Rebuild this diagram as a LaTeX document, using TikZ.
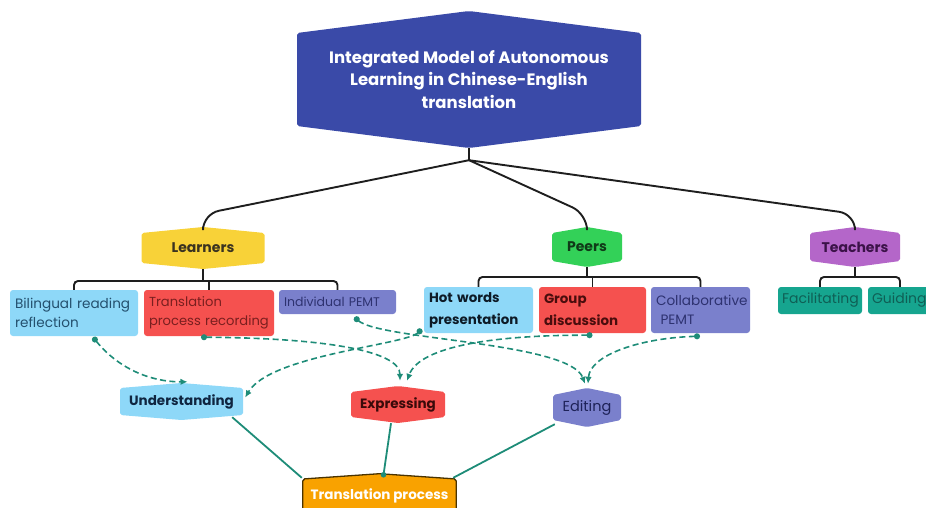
\documentclass[tikz,border=0pt]{standalone}
\usepackage{fontspec}
\setmainfont{Poppins}
\usetikzlibrary{arrows.meta}
\definecolor{titleblue}{HTML}{3A4AA8}
\definecolor{lyellow}{HTML}{F8D238}
\definecolor{pgreen}{HTML}{33D158}
\definecolor{tpurple}{HTML}{B466C9}
\definecolor{lblue}{HTML}{8ED8F8}
\definecolor{cred}{HTML}{F5514F}
\definecolor{cpurple}{HTML}{7A80CC}
\definecolor{cteal}{HTML}{16A58F}
\definecolor{lteal}{HTML}{1E8C78}
\definecolor{corange}{HTML}{F9A200}
\definecolor{obrown}{HTML}{4A3300}
\definecolor{treeblack}{HTML}{1E1E1E}
\definecolor{tlearn}{HTML}{3A3320}
\definecolor{tpeer}{HTML}{103A18}
\definecolor{tteach}{HTML}{3B1248}
\definecolor{tbil}{HTML}{24506E}
\definecolor{tred}{HTML}{7A1F1F}
\definecolor{tpur}{HTML}{2E3270}
\definecolor{thot}{HTML}{0D1A26}
\definecolor{tgrp}{HTML}{4A0D0D}
\definecolor{tteal}{HTML}{0F5F55}
\definecolor{tund}{HTML}{0F2540}
\definecolor{texp}{HTML}{3A0A0A}
\definecolor{tedi}{HTML}{1E2258}
\tikzset{
  hexa/.style 2 args={draw=none, inner sep=0pt, align=center,
    path picture={\fill[#1, rounded corners=2pt]
      ([yshift=-#2]path picture bounding box.north west) --
      (path picture bounding box.north) --
      ([yshift=-#2]path picture bounding box.north east) --
      ([yshift=#2]path picture bounding box.south east) --
      (path picture bounding box.south) --
      ([yshift=#2]path picture bounding box.south west) -- cycle;}},
  hexo/.style 2 args={draw=none, inner sep=0pt, align=center,
    path picture={\filldraw[fill=#1, draw=obrown, line width=1.3pt, rounded corners=2pt]
      ([xshift=0.7pt,yshift=-#2]path picture bounding box.north west) --
      ([yshift=-0.7pt]path picture bounding box.north) --
      ([xshift=-0.7pt,yshift=-#2]path picture bounding box.north east) --
      ([xshift=-0.7pt,yshift=#2]path picture bounding box.south east) --
      ([yshift=0.7pt]path picture bounding box.south) --
      ([xshift=0.7pt,yshift=#2]path picture bounding box.south west) -- cycle;}},
  boxy/.style={rounded corners=3pt, inner sep=5pt, align=left, anchor=center,
    font=\fontsize{13.6}{19.5}\selectfont},
  bfbox/.style={boxy, font=\bfseries\fontsize{13.4}{22}\selectfont},
  lvone/.style={font=\bfseries\fontsize{14}{17}\selectfont},
  lvtwo/.style={font=\bfseries\fontsize{13.5}{17}\selectfont},
  tree/.style={draw=treeblack, line width=1.9pt},
  dashc/.style={draw=lteal, line width=1.6pt, dash pattern=on 6pt off 3.5pt,
    {Circle[length=6pt]}-{Latex[length=7pt,width=6.5pt]}},
  solc/.style={draw=lteal, line width=1.8pt}
}
\begin{document}
\begin{tikzpicture}[x=1pt,y=-1pt]
\useasboundingbox (0,0) rectangle (926,508);

% title
\node[hexa={titleblue}{22pt}, minimum width=344pt, minimum height=137pt, text=white,
  font=\bfseries\fontsize{16.5}{22.5}\selectfont] (title) at (469,79.5)
  {Integrated Model of Autonomous\\Learning in Chinese-English\\translation};

% level one
\node[hexa={lyellow}{6pt}, minimum width=123pt, minimum height=42pt, lvone, text=tlearn] (ler) at (203,248) {Learners};
\node[hexa={pgreen}{6pt}, minimum width=70pt, minimum height=40pt, lvone, text=tpeer] (peer) at (587,247) {Peers};
\node[hexa={tpurple}{6pt}, minimum width=90pt, minimum height=40pt, lvone, text=tteach] (tea) at (855,247) {Teachers};

% children
\node[boxy, fill=lblue, minimum width=128pt, minimum height=46pt, text width=118pt, text=tbil] (bil) at (74,313) {Bilingual reading\\reflection};
\node[boxy, fill=cred, minimum width=130pt, minimum height=46pt, text width=120pt, text=tred, font=\fontsize{13.1}{19.5}\selectfont] (tpr) at (209,313) {Translation\\\mbox{process recording}};
\node[boxy, fill=cpurple, minimum width=117pt, minimum height=24pt, text width=107pt, inner sep=4pt, text=tpur, font=\fontsize{12.5}{15}\selectfont] (ipe) at (337.5,302) {Individual PEMT};
\node[bfbox, fill=lblue, minimum width=109pt, minimum height=46pt, text width=99pt, text=thot] (hot) at (478.5,310) {Hot words\\presentation};
\node[bfbox, fill=cred, minimum width=107pt, minimum height=46pt, text width=97pt, text=tgrp] (grp) at (592.5,310) {Group\\discussion};
\node[boxy, fill=cpurple, minimum width=99pt, minimum height=46pt, text width=89pt, text=tpur] (col) at (700.5,310) {Collaborative\\\ PEMT};
\node[boxy, fill=cteal, minimum width=84pt, minimum height=27pt, text width=76pt, inner sep=4pt, text=tteal, font=\fontsize{14}{17}\selectfont] (fac) at (820,300.5) {Facilitating};
\node[boxy, fill=cteal, minimum width=64pt, minimum height=27pt, text width=56pt, inner sep=4pt, text=tteal, font=\fontsize{14}{17}\selectfont] (gui) at (900,300.5) {Guiding};

% level three
\node[hexa={lblue}{5pt}, minimum width=123pt, minimum height=37pt, lvtwo, text=tund] (und) at (181.5,401.5) {Understanding};
\node[hexa={cred}{6pt}, minimum width=94pt, minimum height=37pt, lvtwo, text=texp] (exp) at (398,404.5) {Expressing};
\node[hexa={cpurple}{7pt}, minimum width=68pt, minimum height=39pt, font=\fontsize{14.5}{17}\selectfont, text=tedi] (edi) at (587,407.5) {Editing};
\node[hexo={corange}{6pt}, minimum width=155pt, minimum height=46pt, text=white,
  font=\bfseries\fontsize{13.5}{17}\selectfont] (tp) at (379.5,496) {Translation process};

% tree from title
\coordinate (hub) at ([yshift=-12pt]title.south);
\draw[tree] (title.south) -- (hub);
\draw[tree, rounded corners=16pt] (hub) -- (ler.north |- 0,214) -- (ler.north);
\draw[tree, rounded corners=16pt] (hub) -- (peer.north |- 0,214) -- (peer.north);
\draw[tree, rounded corners=16pt] (hub) -- (tea.north |- 0,214) -- (tea.north);

% learners children
\draw[tree, rounded corners=4pt] (bil.north) -- (bil.north |- 0,281) -- (ipe.north |- 0,281) -- (ipe.north);
\draw[tree] (ler.south) -- (ler.south |- 0,281);
\draw[tree] (tpr.north) -- (tpr.north |- 0,281);
% peers children
\draw[tree, rounded corners=4pt] (hot.north) -- (hot.north |- 0,277) -- (col.north |- 0,277) -- (col.north);
\draw[tree] (peer.south) -- (peer.south |- 0,277);
\draw[tree] (grp.north) -- (grp.north |- 0,277);
% teachers children
\draw[tree, rounded corners=4pt] (fac.north) -- (fac.north |- 0,277) -- (gui.north |- 0,277) -- (gui.north);
\draw[tree] (tea.south) -- (tea.south |- 0,277);

% dashed connectors
\draw[dashc] ([xshift=19pt,yshift=-1pt]bil.south) .. controls (118,368) and (150,382) .. ([xshift=6pt,yshift=1pt]und.north);
\draw[dashc] ([xshift=-8pt,yshift=-1pt]tpr.south) .. controls (320,338) and (400,350) .. ([xshift=2pt,yshift=5pt]exp.north);
\draw[dashc] ([xshift=17pt,yshift=-3pt]ipe.south) .. controls (380,340) and (570,342) .. ([xshift=-2pt,yshift=4pt]edi.north);
\draw[dashc] ([xshift=-2pt,yshift=4pt]hot.south west) .. controls (405,345) and (270,355) .. ([yshift=4pt,xshift=2pt]und.east);
\draw[dashc] ([yshift=-2pt]grp.south) .. controls (500,335) and (420,345) .. ([xshift=9pt,yshift=5pt]exp.north);
\draw[dashc] ([xshift=-0.5pt,yshift=-3pt]col.south) .. controls (640,338) and (590,355) .. ([xshift=1pt,yshift=4pt]edi.north);

% solid connectors
\draw[solc] ([xshift=-11pt,yshift=3pt]und.south east) -- ([yshift=-5pt]tp.north west);
\draw[solc] ([xshift=-7pt]exp.south) -- ([xshift=4pt,yshift=-2pt]tp.north) coordinate (tpdot);
\fill[lteal] (tpdot) circle (2.8pt);
\draw[solc] ([xshift=2pt,yshift=3pt]edi.south west) -- ([xshift=-4pt,yshift=-5pt]tp.north east);
\end{tikzpicture}
\end{document}
